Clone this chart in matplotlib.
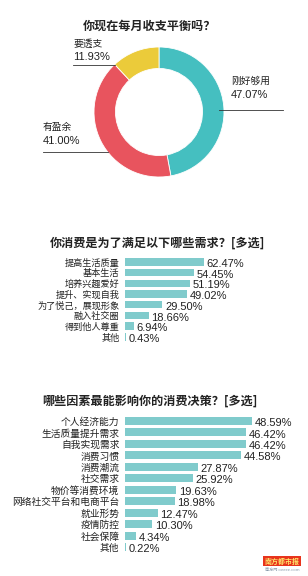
import matplotlib
matplotlib.use('Agg')
import matplotlib.pyplot as plt

plt.rcParams['font.family'] = ['Noto Sans CJK SC', 'DejaVu Sans']

# ------------------------------- data
pie_labels = ['刚好够用', '有盈余', '要透支']
pie_values = [47.07, 41.00, 11.93]
pie_colors = ['#45bfc0', '#e8545e', '#ebcb3a']

need_labels = ['提高生活质量', '基本生活', '培养兴趣爱好', '提升、实现自我',
               '为了悦己，展现形象', '融入社交圈', '得到他人尊重', '其他']
need_values = [62.47, 54.45, 51.19, 49.02, 29.50, 18.66, 6.94, 0.43]

factor_labels = ['个人经济能力', '生活质量提升需求', '自我实现需求', '消费习惯',
                 '消费潮流', '社交需求', '物价等消费环境', '网络社交平台和电商平台',
                 '就业形势', '疫情防控', '社会保障', '其他']
factor_values = [48.59, 46.42, 46.42, 44.58, 27.87, 25.92, 19.63, 18.98,
                 12.47, 10.30, 4.34, 0.22]

W, H = 308, 576
BAR = '#80cbcc'
TXT = '#222222'
NUM_FONT = ['Liberation Sans', 'DejaVu Sans']


def px_axes(fig, left, top, width, height):
    # pixel box (from top-left) -> figure fraction
    return fig.add_axes([left / W, 1 - (top + height) / H, width / W, height / H])


fig = plt.figure(figsize=(W / 100, H / 100), dpi=100)

# ------------------------------- donut
fig.text(150 / W, 1 - 26 / H, '你现在每月收支平衡吗？', ha='center', va='center',
         fontsize=8.7, fontweight='bold', color=TXT)
ax = px_axes(fig, 159 - 65, 112 - 65, 130, 130)
ax.pie(pie_values, colors=pie_colors, startangle=90, counterclock=False,
       radius=1, wedgeprops=dict(width=0.33, edgecolor='white', linewidth=0.6))
ax.set_xlim(-1, 1)
ax.set_ylim(-1, 1)
ax.set_aspect('equal')
ax.axis('off')

# label positions (pixels): text x, name y, value y, line y, line x0, x1
pie_ann = [(231, 81, 95, 110, 219, 283),
           (43, 127, 141, 152, 43, 108),
           (73, 44, 57, 65, 73, 115)]
for (lab, val), (tx, ny, vy, ly, x0, x1) in zip(zip(pie_labels, pie_values), pie_ann):
    fig.text(tx / W, 1 - ny / H, lab, ha='left', va='center', fontsize=7, color=TXT)
    fig.text(tx / W, 1 - vy / H, f'{val:.2f}%', ha='left', va='center', fontsize=8,
             color=TXT, family=NUM_FONT)
    fig.add_artist(plt.Line2D([x0 / W, x1 / W], [1 - ly / H, 1 - ly / H],
                              color='#333333', linewidth=0.6))


def bar_block(ax, labels, values, labelsize):
    n = len(labels)
    ax.barh(range(n), values, height=0.7, color=BAR)
    ax.set_ylim(n - 0.5, -0.5)
    ax.set_yticks(range(n), labels)
    ax.tick_params(axis='y', length=0, pad=4, labelsize=labelsize, labelcolor=TXT)
    ax.set_xticks([])
    for s in ax.spines.values():
        s.set_visible(False)
    for i, v in enumerate(values):
        ax.annotate(f'{v:.2f}%', (v, i), xytext=(2, -1.5), textcoords='offset points',
                    ha='left', va='center', fontsize=8, color=TXT, family=NUM_FONT)


# ------------------------------- needs
fig.text(158 / W, 1 - 243 / H, '你消费是为了满足以下哪些需求？[多选]', ha='center',
         va='center', fontsize=8.7, fontweight='bold', color=TXT)
ax1 = px_axes(fig, 125, 256.6, 126.5, 85.6)
ax1.set_xlim(0, 100)
bar_block(ax1, need_labels, need_values, 6.6)

# ------------------------------- factors
fig.text(150 / W, 1 - 401 / H, '哪些因素最能影响你的消费决策？[多选]', ha='center',
         va='center', fontsize=8.7, fontweight='bold', color=TXT)
ax2 = px_axes(fig, 125, 415.3, 130.6, 137.4)
ax2.set_xlim(0, 50)
bar_block(ax2, factor_labels, factor_values, 7)

# ------------------------------- logo
fig.text(282 / W, 1 - 561 / H, '南方都市报', ha='center', va='center', fontsize=5,
         color='#ffe36b', fontweight='bold',
         bbox=dict(boxstyle='square,pad=0.15', fc='#e8341c', ec='none'))
fig.text(282 / W, 1 - 570 / H, '南方网 oeeee.com', ha='center', va='center',
         fontsize=3, color='#8899aa')

fig.savefig('out.png', dpi=100, facecolor='white')
